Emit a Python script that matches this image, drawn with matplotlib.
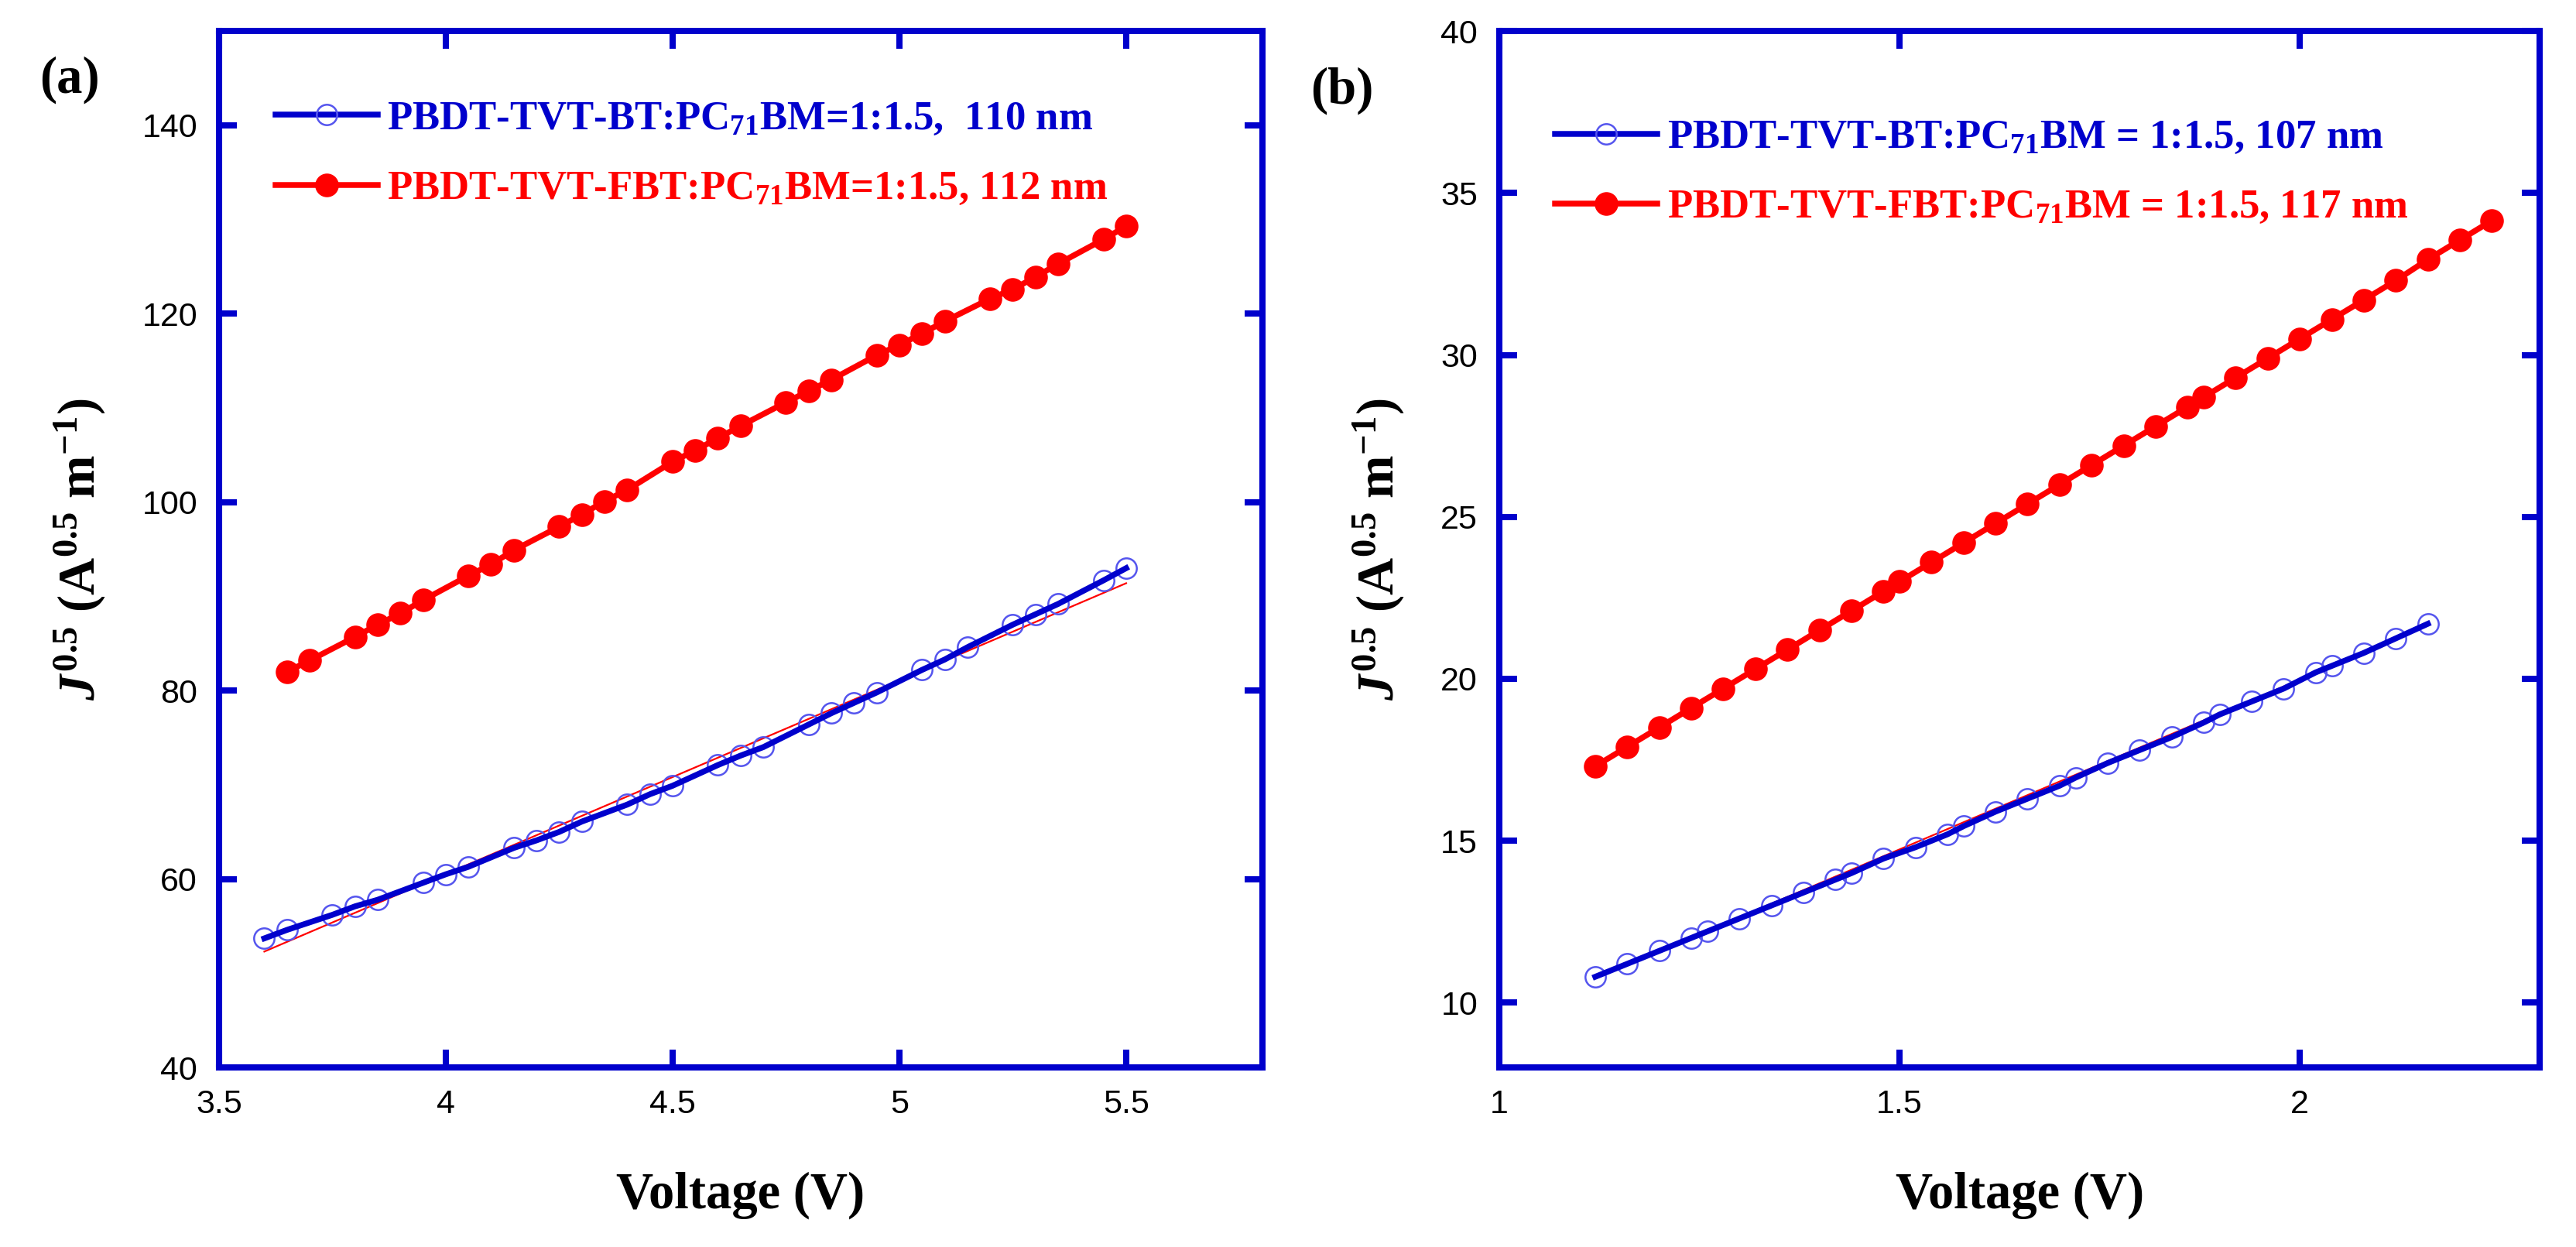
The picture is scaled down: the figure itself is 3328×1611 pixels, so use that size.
import numpy as np
import matplotlib
matplotlib.use('Agg')
from matplotlib import pyplot as plt

plt.rcParams['font.family'] = 'Liberation Sans'
plt.rcParams['mathtext.fontset'] = 'custom'
plt.rcParams['mathtext.rm'] = 'Liberation Serif:bold'
plt.rcParams['mathtext.bf'] = 'Liberation Serif:bold'
plt.rcParams['mathtext.it'] = 'Liberation Serif:bold:italic'

BLUE = '#0000CC'
RED = '#FF0000'

# panel (a): J^0.5 vs voltage
a_bt_v = [3.6, 3.65, 3.75, 3.8, 3.85, 3.95, 4.0, 4.05, 4.15, 4.2, 4.25, 4.3, 4.4, 4.45, 4.5,
          4.6, 4.65, 4.7, 4.8, 4.85, 4.9, 4.95, 5.05, 5.1, 5.15, 5.25, 5.3, 5.35, 5.45, 5.5]
a_bt_j = [53.7, 54.6, 56.2, 57.1, 57.8, 59.6, 60.5, 61.3, 63.3, 64.1, 65.0, 66.1, 67.9, 69.0, 69.9,
          72.1, 73.1, 74.0, 76.4, 77.6, 78.7, 79.8, 82.2, 83.3, 84.6, 87.0, 88.1, 89.2, 91.7, 93.0]
a_fbt_v = [3.65, 3.7, 3.8, 3.85, 3.9, 3.95, 4.05, 4.1, 4.15, 4.25, 4.3, 4.35, 4.4, 4.5, 4.55,
           4.6, 4.65, 4.75, 4.8, 4.85, 4.95, 5.0, 5.05, 5.1, 5.2, 5.25, 5.3, 5.35, 5.45, 5.5]
a_fbt_j = [82.0, 83.2, 85.7, 87.0, 88.2, 89.6, 92.2, 93.4, 94.9, 97.4, 98.7, 100.1, 101.3, 104.3, 105.5,
           106.8, 108.1, 110.6, 111.8, 113.0, 115.6, 116.7, 117.9, 119.2, 121.6, 122.6, 123.9, 125.3, 127.9, 129.3]
a_fit_v = [3.6, 5.5]
a_fit_j = [52.3, 91.4]

# panel (b)
b_bt_v = [1.12, 1.16, 1.20, 1.24, 1.26, 1.30, 1.34, 1.38, 1.42, 1.44, 1.48, 1.52, 1.56, 1.58, 1.62,
          1.66, 1.70, 1.72, 1.76, 1.80, 1.84, 1.88, 1.90, 1.94, 1.98, 2.02, 2.04, 2.08, 2.12, 2.16]
b_bt_j = [10.8, 11.2, 11.6, 12.0, 12.2, 12.6, 13.0, 13.4, 13.8, 14.0, 14.45, 14.8, 15.2, 15.45, 15.9,
          16.3, 16.7, 16.95, 17.4, 17.8, 18.2, 18.65, 18.9, 19.3, 19.7, 20.2, 20.4, 20.8, 21.25, 21.7]
b_fbt_v = [1.12, 1.16, 1.20, 1.24, 1.28, 1.32, 1.36, 1.40, 1.44, 1.48, 1.50, 1.54, 1.58, 1.62, 1.66,
           1.70, 1.74, 1.78, 1.82, 1.86, 1.88, 1.92, 1.96, 2.00, 2.04, 2.08, 2.12, 2.16, 2.20, 2.24]
b_fbt_j = [17.3, 17.9, 18.5, 19.1, 19.7, 20.3, 20.9, 21.5, 22.1, 22.7, 23.0, 23.6, 24.2, 24.8, 25.4,
           26.0, 26.6, 27.2, 27.8, 28.4, 28.7, 29.3, 29.9, 30.5, 31.1, 31.7, 32.3, 32.95, 33.55, 34.15]
b_fit_v = [1.12, 2.16]
b_fit_j = [10.75, 21.65]

a_labels = ['PBDT-TVT-BT:PC$_{\\mathrm{71}}$BM=1:1.5,  110 nm',
            'PBDT-TVT-FBT:PC$_{\\mathrm{71}}$BM=1:1.5, 112 nm']
b_labels = ['PBDT-TVT-BT:PC$_{\\mathrm{71}}$BM = 1:1.5, 107 nm',
            'PBDT-TVT-FBT:PC$_{\\mathrm{71}}$BM = 1:1.5, 117 nm']

fig = plt.figure(figsize=(16.64, 8.055), dpi=200)
ax1 = fig.add_axes([0.085, 0.144, 0.405, 0.831])
ax2 = fig.add_axes([0.582, 0.144, 0.404, 0.831])


def draw(ax, bt_v, bt_j, fbt_v, fbt_j, fit_v, fit_j, labels, leg_y):
    ax.plot(fit_v, fit_j, color=RED, lw=0.8, zorder=2)
    ax.plot(bt_v, bt_j, 'o', ms=9.5, mfc='none', mec='#5555EE', mew=0.9, zorder=3)
    ax.plot(bt_v, bt_j, '-', color=BLUE, lw=2.7, zorder=4)
    ax.plot(fbt_v, fbt_j, '-', color=RED, lw=2.7, zorder=4)
    ax.plot(fbt_v, fbt_j, 'o', ms=10, color=RED, zorder=5)
    # legend handles
    h1, = ax.plot([], [], '-o', color=BLUE, lw=2.7, ms=9.5, mfc='none', mec='#5555EE', mew=0.9)
    h2, = ax.plot([], [], '-o', color=RED, lw=2.7, ms=10)
    leg = ax.legend([h1, h2], labels, loc='upper left', bbox_to_anchor=(0.054, leg_y),
                    frameon=False, handlelength=2.5, handletextpad=0.23, labelspacing=0.8,
                    borderaxespad=0, borderpad=0,
                    prop={'family': 'Liberation Serif', 'weight': 'bold', 'size': 19})
    for t, c in zip(leg.get_texts(), [BLUE, RED]):
        t.set_color(c)
    for s in ax.spines.values():
        s.set_color(BLUE)
        s.set_linewidth(2.9)
    ax.tick_params(direction='in', length=8.4, width=2.9, color=BLUE, top=True, right=True,
                   labelsize=15.5, pad=10)
    ax.set_xlabel('Voltage (V)', family='Liberation Serif', weight='bold', size=24, labelpad=24)
    ax.set_ylabel('$J^{\\mathrm{0.5}}$ (A$^{\\mathrm{0.5}}$ m$^{\\mathrm{-1}}$)',
                  family='Liberation Serif', weight='bold', size=24, labelpad=16)


draw(ax1, a_bt_v, a_bt_j, a_fbt_v, a_fbt_j, a_fit_v, a_fit_j, a_labels, 0.933)
ax1.set_xlim(3.5, 5.8)
ax1.set_ylim(40, 150)
ax1.set_xticks([3.5, 4, 4.5, 5, 5.5])
ax1.set_xticklabels(['3.5', '4', '4.5', '5', '5.5'])
ax1.set_yticks([40, 60, 80, 100, 120, 140])

draw(ax2, b_bt_v, b_bt_j, b_fbt_v, b_fbt_j, b_fit_v, b_fit_j, b_labels, 0.915)
ax2.set_xlim(1, 2.3)
ax2.set_ylim(8, 40)
ax2.set_xticks([1, 1.5, 2])
ax2.set_xticklabels(['1', '1.5', '2'])
ax2.set_yticks([10, 15, 20, 25, 30, 35, 40])

fig.text(0.027, 0.936, '(a)', family='Liberation Serif', weight='bold', size=24, ha='center', va='center')
fig.text(0.521, 0.927, '(b)', family='Liberation Serif', weight='bold', size=24, ha='center', va='center')

plt.savefig('out.png', dpi=200)
